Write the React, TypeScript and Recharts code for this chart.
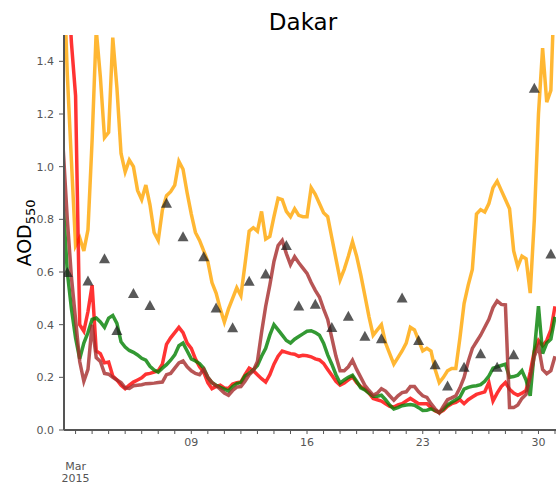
import React from "react";
import { ComposedChart, Line, Scatter, XAxis, YAxis } from "recharts";

// model runs, 6-hourly from Mar 1 06:00 (t = day of month)
const start = 1.25;
const step = 0.25;

const orange = [
  1.8, 1.35, 1.02,
  0.70, 0.73, 0.68, 0.76,
  1.10, 1.52, 1.34, 1.11,
  1.13, 1.49, 1.30, 1.05,
  0.98, 1.025, 1.00, 0.91,
  0.875, 0.93, 0.855, 0.75,
  0.72, 0.835, 0.89, 0.905,
  0.93, 1.02, 0.99, 0.90,
  0.82, 0.75, 0.72, 0.68,
  0.64, 0.56, 0.52, 0.46,
  0.41, 0.46, 0.50, 0.54,
  0.51, 0.63, 0.755, 0.768,
  0.755, 0.83, 0.725, 0.735,
  0.81, 0.88, 0.875, 0.83,
  0.81, 0.84, 0.815, 0.81,
  0.81, 0.92, 0.895, 0.86,
  0.825, 0.81, 0.73, 0.65,
  0.57, 0.61, 0.66, 0.715,
  0.66, 0.59, 0.51, 0.43,
  0.36, 0.38, 0.40, 0.33,
  0.29, 0.25, 0.275, 0.30,
  0.33, 0.39, 0.38, 0.34,
  0.30, 0.31, 0.30, 0.23,
  0.18, 0.20, 0.225, 0.234,
  0.234, 0.35, 0.48, 0.55,
  0.61, 0.82, 0.837, 0.828,
  0.86, 0.92, 0.945, 0.91,
  0.875, 0.84, 0.68, 0.62,
  0.66, 0.65, 0.52, 0.80,
  1.20, 1.45, 1.245, 1.29,
  1.75,
];

const red = [
  2.0, 1.75, 1.47,
  1.27, 0.40, 0.375, 0.45,
  0.55, 0.30, 0.29, 0.255,
  0.258, 0.205, 0.19, 0.17,
  0.157, 0.17, 0.182, 0.19,
  0.198, 0.212, 0.215, 0.22,
  0.225, 0.25, 0.325, 0.35,
  0.37, 0.39, 0.37, 0.33,
  0.31, 0.27, 0.24, 0.22,
  0.18, 0.157, 0.165, 0.17,
  0.16, 0.158, 0.175, 0.18,
  0.182, 0.21, 0.235, 0.225,
  0.21, 0.195, 0.182, 0.21,
  0.25, 0.28, 0.30, 0.295,
  0.29, 0.288, 0.28, 0.284,
  0.282, 0.278, 0.27, 0.266,
  0.253, 0.23, 0.208, 0.185,
  0.17, 0.178, 0.19, 0.202,
  0.18, 0.165, 0.155, 0.14,
  0.12, 0.115, 0.11, 0.10,
  0.09, 0.087, 0.095, 0.10,
  0.11, 0.12, 0.11, 0.10,
  0.10, 0.10, 0.085, 0.072,
  0.066, 0.075, 0.09, 0.10,
  0.105, 0.115, 0.10, 0.115,
  0.125, 0.135, 0.14, 0.145,
  0.18, 0.11, 0.14, 0.165,
  0.18, 0.155, 0.14, 0.132,
  0.14, 0.15, 0.22, 0.30,
  0.34, 0.32, 0.34, 0.38,
  0.47,
];

const green = [
  0.86, 0.60, 0.46,
  0.35, 0.27, 0.33, 0.37,
  0.42, 0.425, 0.41, 0.39,
  0.425, 0.435, 0.405, 0.335,
  0.315, 0.302, 0.295, 0.285,
  0.272, 0.265, 0.242, 0.228,
  0.22, 0.235, 0.248, 0.265,
  0.285, 0.32, 0.33, 0.30,
  0.27, 0.262, 0.252, 0.235,
  0.20, 0.18, 0.17, 0.162,
  0.155, 0.148, 0.165, 0.176,
  0.18, 0.205, 0.215, 0.228,
  0.245, 0.28, 0.31, 0.36,
  0.40, 0.38, 0.36, 0.34,
  0.33, 0.345, 0.355, 0.365,
  0.375, 0.377, 0.37, 0.36,
  0.33, 0.285, 0.25, 0.21,
  0.178, 0.19, 0.20, 0.208,
  0.185, 0.16, 0.152, 0.14,
  0.128, 0.128, 0.132, 0.115,
  0.095, 0.08, 0.085, 0.092,
  0.095, 0.097, 0.094, 0.085,
  0.074, 0.075, 0.08, 0.075,
  0.066, 0.08, 0.095, 0.105,
  0.115, 0.125, 0.155, 0.162,
  0.166, 0.168, 0.172, 0.185,
  0.205, 0.235, 0.24, 0.245,
  0.25, 0.20, 0.203, 0.208,
  0.225, 0.19, 0.13, 0.30,
  0.47, 0.29, 0.33, 0.345,
  0.43,
];

const brown = [
  1.07, 0.80, 0.58,
  0.42, 0.26, 0.185, 0.23,
  0.40, 0.275, 0.26, 0.215,
  0.212, 0.20, 0.19, 0.18,
  0.16, 0.158, 0.168, 0.17,
  0.172, 0.176, 0.177, 0.178,
  0.18, 0.182, 0.21, 0.215,
  0.235, 0.255, 0.262, 0.24,
  0.225, 0.215, 0.21, 0.23,
  0.20, 0.18, 0.168, 0.155,
  0.14, 0.132, 0.15, 0.163,
  0.165, 0.185, 0.21, 0.225,
  0.26, 0.37, 0.47, 0.55,
  0.64, 0.70, 0.72, 0.67,
  0.628, 0.658, 0.635, 0.615,
  0.595, 0.56, 0.53, 0.505,
  0.46, 0.42, 0.35, 0.28,
  0.225, 0.225, 0.24, 0.265,
  0.23, 0.20, 0.17, 0.15,
  0.132, 0.14, 0.157, 0.148,
  0.13, 0.113, 0.13, 0.142,
  0.145, 0.165, 0.165, 0.145,
  0.13, 0.124, 0.10, 0.08,
  0.065, 0.09, 0.115, 0.122,
  0.13, 0.16, 0.20, 0.26,
  0.31, 0.335, 0.36, 0.39,
  0.42, 0.465, 0.49, 0.477,
  0.475, 0.085, 0.085, 0.095,
  0.12, 0.135, 0.20, 0.28,
  0.32, 0.23, 0.214, 0.225,
  0.28,
];

// AERONET observations
const obsTime = [
  1.5, 2.75, 3.75, 4.5, 5.5, 6.5, 7.5, 8.5, 9.75, 10.5,
  11.5, 12.5, 13.5, 14.75, 15.5, 16.5, 17.5, 18.5, 19.5, 20.5,
  21.75, 22.75, 23.75, 24.5, 25.5, 26.5, 27.5, 28.5, 29.75, 30.75,
];
const obsAod = [
  0.60, 0.568, 0.652, 0.38, 0.52, 0.475, 0.863, 0.736, 0.66, 0.465,
  0.39, 0.567, 0.594, 0.703, 0.473, 0.479, 0.391, 0.434, 0.358, 0.348,
  0.503, 0.342, 0.25, 0.169, 0.24, 0.291, 0.24, 0.288, 1.30, 0.67,
];

const dayTicks = [
  2, 3, 4, 5, 6, 7, 8, 9, 10, 11, 12, 13, 14, 15, 16,
  17, 18, 19, 20, 21, 22, 23, 24, 25, 26, 27, 28, 29, 30, 31,
];
const majorDays = [2, 9, 16, 23, 30];
const majorLabels = ["", "09", "16", "23", "30"];
const yTicks = [0, 0.2, 0.4, 0.6, 0.8, 1.0, 1.2, 1.4];

const rows = orange.map((v, i) => ({
  t: start + i * step, orange: v, red: red[i], green: green[i], brown: brown[i],
}));
const obs = obsTime.map((t, i) => ({ t, aod: obsAod[i] }));

const font = "DejaVu Sans, sans-serif";
const spine = "#555";
const tickFill = "#555";

function DateTick({ x, y, payload }: any) {
  const k = majorDays.indexOf(payload.value);
  if (k < 0) return <g />;
  const st = { fontSize: 11, fontFamily: font, fill: tickFill } as const;
  return (
    <g>
      {majorLabels[k] && <text x={x} y={y + 10} textAnchor="middle" {...st}>{majorLabels[k]}</text>}
      {k === 0 && (
        <>
          <text x={x} y={y + 33.5} textAnchor="middle" {...st}>Mar</text>
          <text x={x} y={y + 46} textAnchor="middle" {...st}>2015</text>
        </>
      )}
    </g>
  );
}

function Tri(props: any) {
  const { cx, cy } = props;
  if (cx == null || cy == null) return <g />;
  const w = 11, h = 10;
  return (
    <polygon
      points={`${cx},${cy - h / 2} ${cx - w / 2},${cy + h / 2} ${cx + w / 2},${cy + h / 2}`}
      fill="#222" fillOpacity={0.75}
    />
  );
}

export default function App() {
  return (
    <div style={{ position: "absolute", left: 0, top: 0, width: 556, height: 485, background: "#fff" }}>
      <ComposedChart width={556} height={485} data={rows} margin={{ top: 35, right: 0, bottom: 0, left: 0 }}>
        <XAxis
          dataKey="t" type="number" domain={[1.3, 31.06]} allowDataOverflow
          ticks={dayTicks} interval={0} height={55} tickSize={4}
          axisLine={{ stroke: spine, strokeWidth: 2 }} tickLine={{ stroke: spine }}
          tick={<DateTick />}
        />
        <XAxis
          xAxisId="top" orientation="top" dataKey="t" type="number" domain={[1.3, 31.06]} allowDataOverflow
          ticks={dayTicks} interval={0} height={0} tickSize={4}
          axisLine={{ stroke: spine, strokeWidth: 2 }} tickLine={{ stroke: spine }}
          tick={() => <g />}
        />
        <YAxis
          type="number" domain={[0, 1.5]} allowDataOverflow ticks={yTicks} width={64}
          tickSize={5} tickMargin={5} tickFormatter={(v: number) => v.toFixed(1)}
          axisLine={{ stroke: spine, strokeWidth: 2 }} tickLine={{ stroke: spine }}
          tick={{ fontSize: 11, fontFamily: font, fill: tickFill }}
        />
        <Line dataKey="orange" type="linear" stroke="#FFA500" strokeOpacity={0.8} strokeWidth={3.5} dot={false} isAnimationActive={false} />
        <Line dataKey="red" type="linear" stroke="#FF0000" strokeOpacity={0.8} strokeWidth={3.5} dot={false} isAnimationActive={false} />
        <Line dataKey="green" type="linear" stroke="#008000" strokeOpacity={0.8} strokeWidth={3.5} dot={false} isAnimationActive={false} />
        <Line dataKey="brown" type="linear" stroke="#A52A2A" strokeOpacity={0.8} strokeWidth={3.5} dot={false} isAnimationActive={false} />
        <Scatter data={obs} dataKey="aod" shape={<Tri />} isAnimationActive={false} />
      </ComposedChart>
      <svg width={556} height={485} style={{ position: "absolute", left: 0, top: 0, pointerEvents: "none" }}>
        <text x={303} y={30} textAnchor="middle" fontSize={23} fontFamily={font} fill="#000">Dakar</text>
        <text transform="translate(31,233) rotate(-90)" textAnchor="middle" fontSize={19} fontFamily={font} fill="#000">
          AOD<tspan fontSize={13} dy={4}>550</tspan>
        </text>
      </svg>
    </div>
  );
}
